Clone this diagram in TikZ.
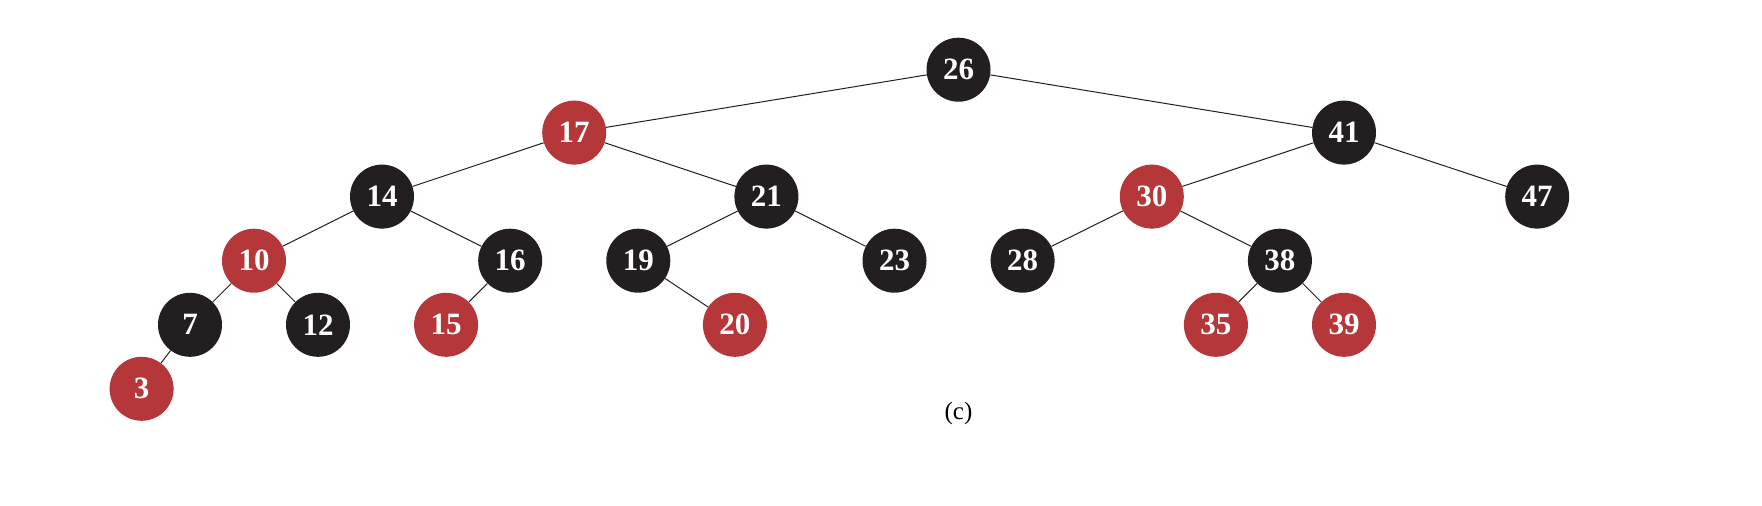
\documentclass[tikz,border=0pt]{standalone}
\usepackage{fontspec}
\setmainfont{Liberation Serif}
\definecolor{rbred}{HTML}{B5373A}
\definecolor{rbblack}{HTML}{231F20}
\tikzset{
  rb/.style={circle, minimum size=64pt, inner sep=0pt, text=white, font=\fontsize{31}{31}\selectfont\bfseries},
  rn/.style={rb, fill=rbred},
  bn/.style={rb, fill=rbblack},
  edge/.style={draw=rbblack, line width=1pt}
}
\begin{document}
\begin{tikzpicture}[x=1pt,y=-1pt]
\useasboundingbox (0,0) rectangle (1762,506);
\node[bn] (n26) at (958.5,69.7) {26};
\node[rn] (n17) at (574.2,132.6) {17};
\node[bn] (n41) at (1344,132.6) {41};
\node[bn] (n14) at (382,196.6) {14};
\node[bn] (n21) at (766.4,196.6) {21};
\node[rn] (n30) at (1151.8,196.6) {30};
\node[bn] (n47) at (1537.2,196.6) {47};
\node[rn] (n10) at (254,260.7) {10};
\node[bn] (n16) at (510.2,260.7) {16};
\node[bn] (n19) at (638.3,260.7) {19};
\node[bn] (n23) at (894.5,260.7) {23};
\node[bn] (n28) at (1022.6,260.7) {28};
\node[bn] (n38) at (1279.9,260.7) {38};
\node[bn] (n7) at (190,324.8) {7};
\node[bn] (n12) at (318,324.8) {12};
\node[rn] (n15) at (446.1,324.8) {15};
\node[rn] (n20) at (734.9,324.8) {20};
\node[rn] (n35) at (1215.9,324.8) {35};
\node[rn] (n39) at (1344,324.8) {39};
\node[rn] (n3) at (141.6,388.8) {3};
\node[font=\fontsize{25}{25}\selectfont] (cap) at (958.5,413.5) {(c)};
\begin{scope}[on background layer/.style={}]
\end{scope}
\path[edge] (n26) -- (n17);
\path[edge] (n26) -- (n41);
\path[edge] (n17) -- (n14);
\path[edge] (n17) -- (n21);
\path[edge] (n41) -- (n30);
\path[edge] (n41) -- (n47);
\path[edge] (n14) -- (n10);
\path[edge] (n14) -- (n16);
\path[edge] (n21) -- (n19);
\path[edge] (n21) -- (n23);
\path[edge] (n30) -- (n28);
\path[edge] (n30) -- (n38);
\path[edge] (n10) -- (n7);
\path[edge] (n10) -- (n12);
\path[edge] (n16) -- (n15);
\path[edge] (n19) -- (n20);
\path[edge] (n38) -- (n35);
\path[edge] (n38) -- (n39);
\path[edge] (n7) -- (n3);
\end{tikzpicture}
\end{document}
